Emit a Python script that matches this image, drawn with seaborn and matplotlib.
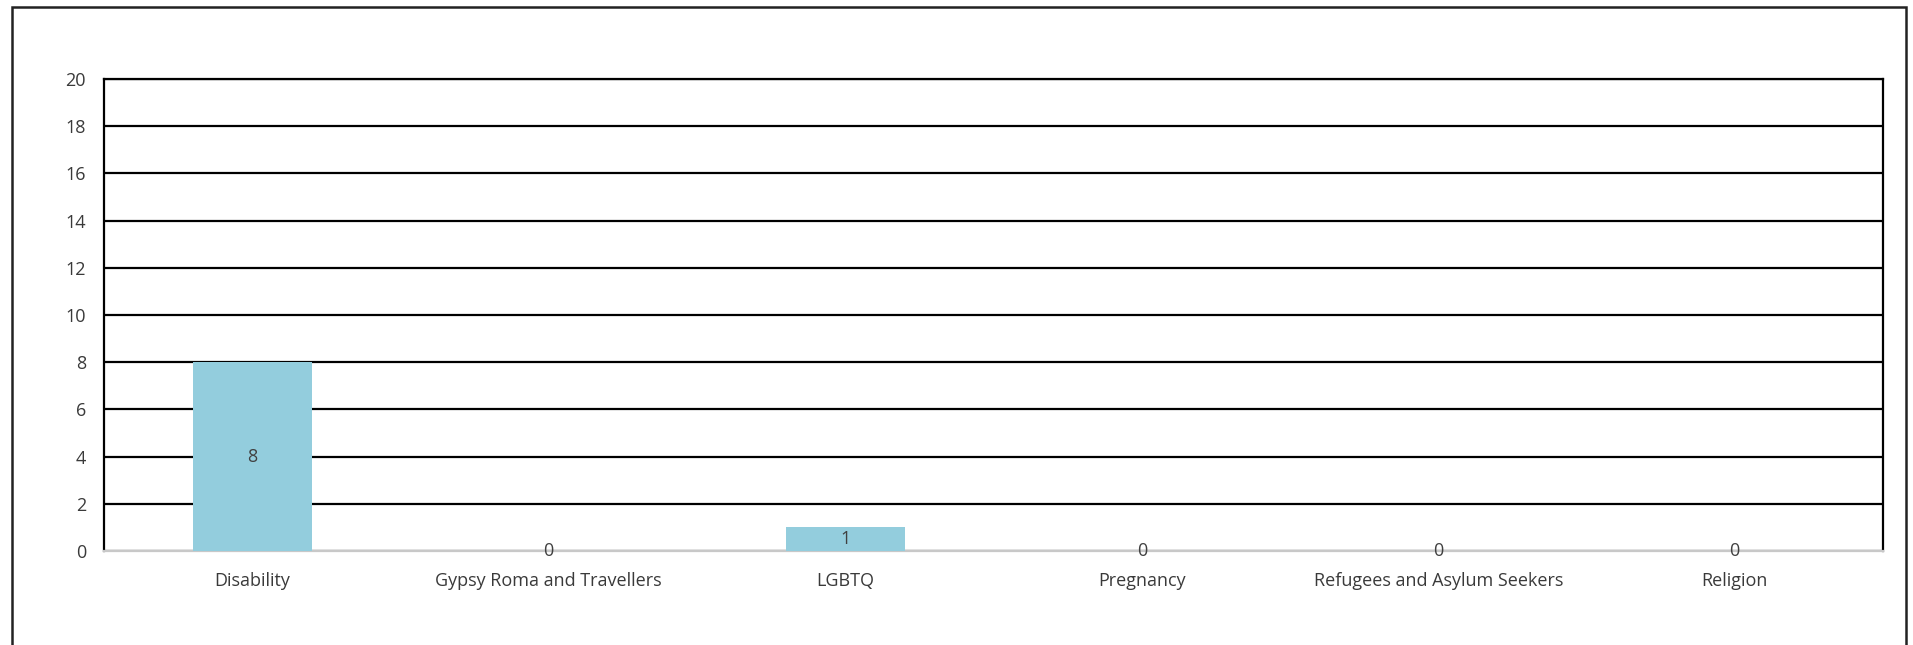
import matplotlib
matplotlib.use("Agg")
import matplotlib.pyplot as plt
from matplotlib.patches import Rectangle
import seaborn as sns
import pandas as pd

categories = ["Disability", "Gypsy Roma and Travellers", "LGBTQ",
              "Pregnancy", "Refugees and Asylum Seekers", "Religion"]
counts = [8, 0, 1, 0, 0, 0]
y_ticks = [0, 2, 4, 6, 8, 10, 12, 14, 16, 18, 20]

df = pd.DataFrame({"category": categories, "count": counts})

sns.set_theme(style="white")
plt.rcParams["font.family"] = ["Open Sans", "DejaVu Sans"]

W, H, DPI = 1913, 645, 100
fig = plt.figure(figsize=(W / DPI, H / DPI), dpi=DPI)

# plot area in pixel coordinates
left, right, top, bottom = 104, 1883, 79, 551
ax = fig.add_axes([left / W, 1 - bottom / H, (right - left) / W, (bottom - top) / H])

sns.barplot(data=df, x="category", y="count", color="#93CDDD",
            saturation=1, width=0.40, linewidth=0, ax=ax, zorder=3)

ax.set_ylim(0, 20)
ax.set_yticks(y_ticks)
ax.set_xlim(-0.5, len(categories) - 0.5)
ax.grid(axis="y", color="black", linewidth=1.6, zorder=1)
ax.set_axisbelow(True)
ax.set_xlabel("")
ax.set_ylabel("")

for side in ["top", "left", "right"]:
    ax.spines[side].set_visible(True)
    ax.spines[side].set_color("black")
    ax.spines[side].set_linewidth(1.6)
ax.spines["bottom"].set_color("#C8C8C8")
ax.spines["bottom"].set_linewidth(1.6)

ax.tick_params(axis="y", length=0, pad=13, labelsize=13, labelcolor="#3A3A3A")
ax.tick_params(axis="x", length=0, pad=15, labelsize=13, labelcolor="#3A3A3A")

# value labels centred in each bar
for i, v in enumerate(counts):
    ax.text(i, v / 2, str(v), ha="center", va="center", fontsize=13,
            color="#404040", zorder=4)

# outer chart border
fig.patches.append(Rectangle((12 / W, -0.05), (1906 - 12) / W, 1.05 - 7 / H,
                             transform=fig.transFigure, fill=False,
                             edgecolor="#222222", linewidth=1.8))

fig.savefig("out.png", dpi=DPI, facecolor="white")
